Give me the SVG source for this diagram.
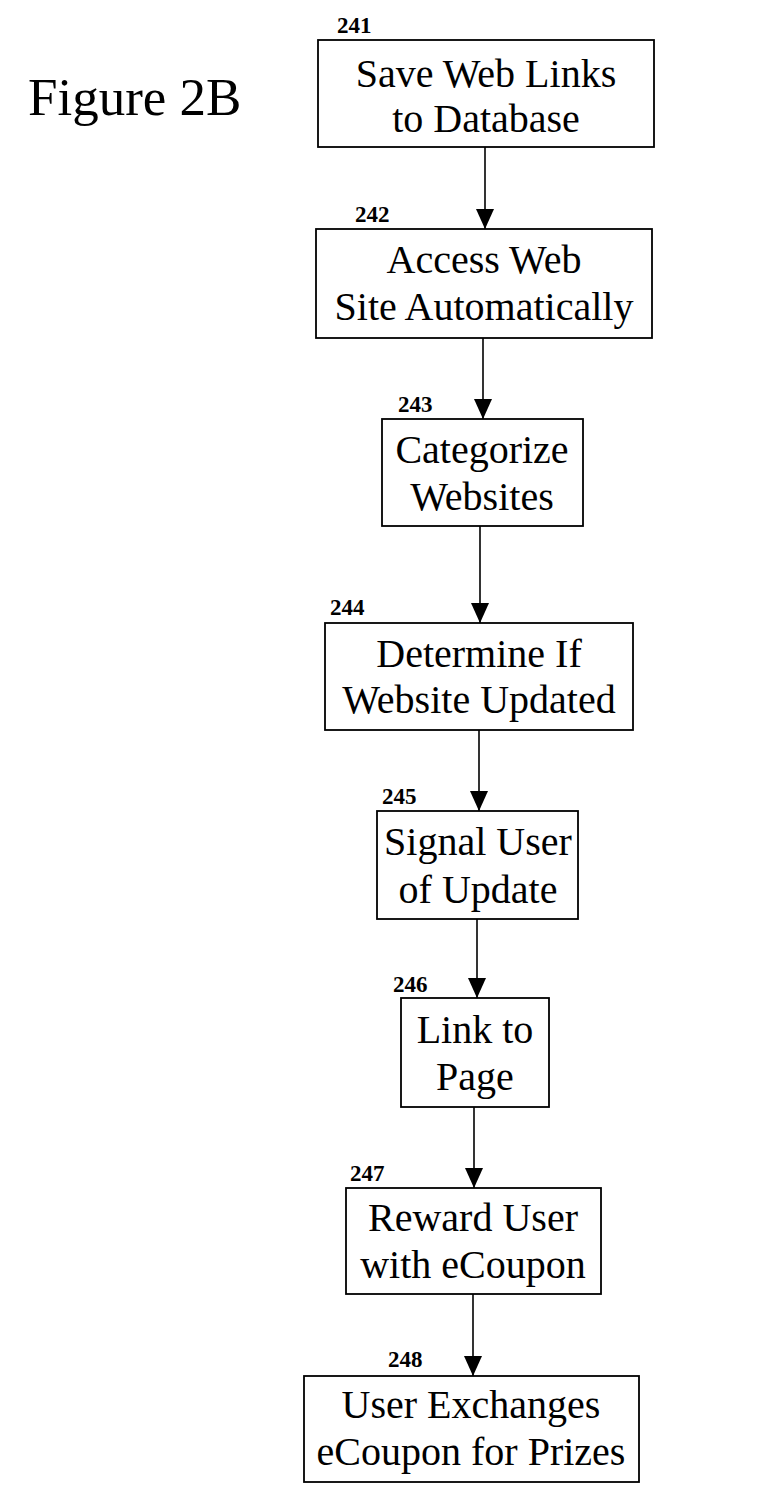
<svg xmlns="http://www.w3.org/2000/svg" width="780" height="1510" viewBox="0 0 780 1510">
<style>
.box{fill:#fff;stroke:#000;stroke-width:1.8}
.t{font-family:"Liberation Serif","Times New Roman",serif;font-size:40px;text-anchor:middle;fill:#000}
.n{font-family:"Liberation Serif","Times New Roman",serif;font-size:23px;font-weight:bold;fill:#000}
.c{stroke:#000;stroke-width:1.6;fill:none;marker-end:url(#ah)}
</style>
<defs>
<marker id="ah" markerUnits="userSpaceOnUse" markerWidth="22" markerHeight="20" refX="20" refY="9" orient="auto">
<path d="M0,0 L20,9 L0,18 z" fill="#000"/>
</marker>
</defs>
<rect width="780" height="1510" fill="#fff"/>
<text x="28" y="115" font-family="Liberation Serif,'Times New Roman',serif" font-size="53" fill="#000">Figure 2B</text>
<g id="connectors">
<line class="c" x1="485" y1="147" x2="485" y2="229"/>
<line class="c" x1="483" y1="338" x2="483" y2="419"/>
<line class="c" x1="480" y1="526" x2="480" y2="623"/>
<line class="c" x1="479" y1="730" x2="479" y2="811"/>
<line class="c" x1="477" y1="919" x2="477" y2="998"/>
<line class="c" x1="474" y1="1107" x2="474" y2="1188"/>
<line class="c" x1="473" y1="1294" x2="473" y2="1376"/>
</g>
<g id="n241">
<text class="n" x="337" y="33">241</text>
<rect class="box" x="318" y="40" width="336" height="107"/>
<text class="t" x="486" y="87">Save Web Links</text>
<text class="t" x="486" y="132">to Database</text>
</g>
<g id="n242">
<text class="n" x="355" y="222">242</text>
<rect class="box" x="316" y="229" width="336" height="109"/>
<text class="t" x="484" y="273">Access Web</text>
<text class="t" x="484" y="320">Site Automatically</text>
</g>
<g id="n243">
<text class="n" x="398" y="412">243</text>
<rect class="box" x="382" y="419" width="201" height="107"/>
<text class="t" x="482" y="463">Categorize</text>
<text class="t" x="482" y="510">Websites</text>
</g>
<g id="n244">
<text class="n" x="330" y="615">244</text>
<rect class="box" x="325" y="623" width="308" height="107"/>
<text class="t" x="479" y="667">Determine If</text>
<text class="t" x="479" y="713">Website Updated</text>
</g>
<g id="n245">
<text class="n" x="382" y="804">245</text>
<rect class="box" x="377" y="811" width="201" height="108"/>
<text class="t" x="478" y="855">Signal User</text>
<text class="t" x="478" y="903">of Update</text>
</g>
<g id="n246">
<text class="n" x="393" y="992">246</text>
<rect class="box" x="401" y="998" width="148" height="109"/>
<text class="t" x="475" y="1043">Link to</text>
<text class="t" x="475" y="1090">Page</text>
</g>
<g id="n247">
<text class="n" x="350" y="1181">247</text>
<rect class="box" x="346" y="1188" width="255" height="106"/>
<text class="t" x="473" y="1231">Reward User</text>
<text class="t" x="473" y="1278">with eCoupon</text>
</g>
<g id="n248">
<text class="n" x="388" y="1367">248</text>
<rect class="box" x="304" y="1376" width="335" height="106"/>
<text class="t" x="471" y="1418">User Exchanges</text>
<text class="t" x="471" y="1465">eCoupon for Prizes</text>
</g>
</svg>
